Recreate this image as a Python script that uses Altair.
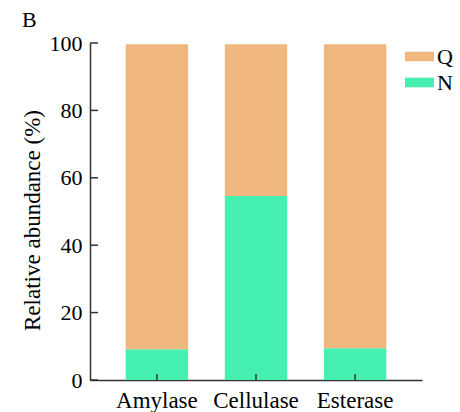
import altair as alt
import pandas as pd

enzymes = ["Amylase", "Cellulase", "Esterase"]
n_values = [9.1, 54.6, 9.4]
q_values = [90.5, 45.0, 90.2]
series = ["Q", "N"]
colors = ["#F0B77E", "#45F0B1"]
y_ticks = [0, 20, 40, 60, 80, 100]

rows = []
for e, n, q in zip(enzymes, n_values, q_values):
    rows.append({"enzyme": e, "series": "N", "value": n, "ord": 0})
    rows.append({"enzyme": e, "series": "Q", "value": q, "ord": 1})
df = pd.DataFrame(rows)
tick_df = pd.DataFrame({"value": y_ticks})
cat_df = pd.DataFrame({"enzyme": enzymes})

FONT = "Liberation Serif, Times New Roman, serif"
W, H = 332, 337

x_scale = alt.Scale(domain=enzymes, paddingInner=0.37, paddingOuter=0.36)
y_scale = alt.Scale(domain=[0, 100], nice=False)

y_axis = alt.Axis(title="Relative abundance (%)", values=y_ticks, ticks=False,
                  grid=False, labelFont=FONT, labelFontSize=22, labelPadding=8,
                  labelColor="black", titleFont=FONT, titleFontSize=23,
                  titleFontWeight="normal", titleColor="black",
                  titleX=-51, titleY=177, titleBaseline="alphabetic",
                  domainColor="#333", domainWidth=1.5)
x_axis = alt.Axis(title=None, ticks=False, labelAngle=0, labelFont=FONT,
                  labelFontSize=23, labelColor="black", labelBaseline="alphabetic",
                  labelPadding=27, domainColor="#333", domainWidth=1.5)

bars = alt.Chart(df).mark_bar().encode(
    x=alt.X("enzyme:N", scale=x_scale, sort=enzymes, axis=x_axis),
    y=alt.Y("value:Q", stack="zero", scale=y_scale, axis=y_axis),
    color=alt.Color("series:N", scale=alt.Scale(domain=series, range=colors),
                    legend=alt.Legend(title=None, orient="none", legendX=315, legendY=-1,
                                      symbolType="M-1,-0.33H1V0.33H-1Z", symbolSize=841,
                                      symbolStrokeWidth=0, symbolOpacity=1,
                                      labelFont=FONT, labelFontSize=22, labelColor="black",
                                      labelOffset=3, rowPadding=0, padding=0)),
    order=alt.Order("ord:Q"),
)

ytick_layer = alt.Chart(tick_df).mark_rule(color="#333", strokeWidth=1.5).encode(
    y=alt.Y("value:Q", scale=y_scale, axis=y_axis),
    x=alt.value(0),
    x2=alt.value(8),
)

xtick_layer = alt.Chart(cat_df).mark_rule(color="#333", strokeWidth=1.5).encode(
    x=alt.X("enzyme:N", scale=x_scale, sort=enzymes, bandPosition=0.5, axis=x_axis),
    y=alt.value(H),
    y2=alt.value(H - 6),
)

label_b = alt.Chart(pd.DataFrame({"t": ["B"]})).mark_text(
    text="B", font=FONT, fontSize=22, align="left", baseline="alphabetic", color="black"
).encode(x=alt.value(-68), y=alt.value(-16))

chart = alt.layer(bars, ytick_layer, xtick_layer, label_b).properties(
    width=W, height=H,
    autosize=alt.AutoSizeParams(type="none"),
    padding={"left": 90, "top": 43, "right": 38, "bottom": 32},
).configure(background="white", font=FONT).configure_view(stroke=None)

chart.save("out.html", embed_options={"renderer": "svg", "actions": False})
